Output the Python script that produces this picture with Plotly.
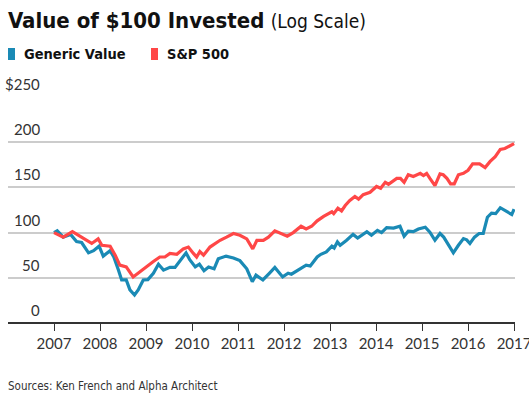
import plotly.graph_objects as go

# ---------------- data ----------------
sp_x = [2007.0, 2007.1, 2007.2, 2007.4, 2007.53, 2007.71, 2007.82, 2007.96, 2008.04, 2008.22,
        2008.33, 2008.43, 2008.57, 2008.72, 2008.87, 2009.01, 2009.16, 2009.3, 2009.41, 2009.52,
        2009.67, 2009.81, 2009.92, 2010.03, 2010.1, 2010.17, 2010.25, 2010.39, 2010.61, 2010.75,
        2010.9, 2011.04, 2011.19, 2011.32, 2011.41, 2011.55, 2011.66, 2011.8, 2011.9, 2012.07,
        2012.2, 2012.37, 2012.48, 2012.6, 2012.72, 2012.86, 2013.04, 2013.08, 2013.17, 2013.25,
        2013.33, 2013.43, 2013.54, 2013.62, 2013.72, 2013.87, 2014.01, 2014.1, 2014.2, 2014.27,
        2014.45, 2014.53, 2014.61, 2014.7, 2014.81, 2014.96, 2015.03, 2015.1, 2015.17, 2015.28,
        2015.39, 2015.46, 2015.54, 2015.62, 2015.7, 2015.79, 2015.9, 2016.0, 2016.1, 2016.25,
        2016.37, 2016.48, 2016.59, 2016.7, 2016.8, 2016.91, 2017.0]
sp_y = [100, 97, 95, 101, 97, 91.5, 88, 93, 86, 85,
        75, 64, 62, 51, 57, 62, 68, 73, 73, 77,
        76, 82, 84, 77, 73, 79, 75, 84, 91.5, 95,
        99, 97, 93, 82, 91.5, 91.5, 95, 102, 100, 96,
        100, 107, 104, 107, 113, 118, 123, 121, 127, 124,
        130, 135.5, 140, 137, 142, 144.6, 151, 149, 155.6, 153.5,
        160, 160, 155.6, 164, 162, 165.5, 163, 165.5, 160, 152,
        165, 164, 160, 154, 154, 164, 165.5, 169, 176, 176,
        172, 178.7, 184, 192, 193, 196, 198.5]

gv_x = [2007.0, 2007.07, 2007.2, 2007.36, 2007.49, 2007.6, 2007.75, 2007.86, 2007.98, 2008.07,
        2008.22, 2008.3, 2008.4, 2008.47, 2008.57, 2008.65, 2008.75, 2008.83, 2008.94, 2009.04,
        2009.16, 2009.27, 2009.38, 2009.52, 2009.63, 2009.78, 2009.87, 2009.95, 2010.07, 2010.16,
        2010.26, 2010.36, 2010.48, 2010.57, 2010.74, 2010.9, 2011.04, 2011.19, 2011.31, 2011.39,
        2011.54, 2011.68, 2011.8, 2011.97, 2012.09, 2012.16, 2012.48, 2012.57, 2012.72, 2012.8,
        2012.92, 2013.04, 2013.09, 2013.16, 2013.22, 2013.36, 2013.5, 2013.6, 2013.8, 2013.9,
        2014.03, 2014.12, 2014.23, 2014.38, 2014.52, 2014.61, 2014.7, 2014.81, 2014.92, 2015.07,
        2015.17, 2015.28, 2015.39, 2015.47, 2015.57, 2015.68, 2015.79, 2015.9, 2015.97, 2016.04,
        2016.14, 2016.24, 2016.33, 2016.42, 2016.51, 2016.6, 2016.7, 2016.83, 2016.95, 2017.0]
gv_y = [100, 102, 95, 98, 90, 89, 77.6, 80, 85, 74,
        80, 73, 58.6, 47.6, 47.6, 36.6, 31, 36.6, 47.6, 48,
        55, 65, 58.5, 61.5, 61.5, 71, 77.6, 70, 62, 65,
        57.8, 62, 60, 71, 74, 72, 69, 60, 45.7, 53,
        47.6, 55, 61.5, 51, 55, 54, 64, 63, 73, 76,
        78.6, 85, 83, 89.7, 86, 91.5, 98, 94, 101, 97,
        102.5, 100, 105.5, 105, 107, 96, 101.5, 101, 104, 106,
        100.5, 91.5, 99, 95, 86, 77.6, 86, 93.4, 92, 88,
        95, 99, 99, 117, 121.5, 121, 127.5, 124, 120, 126]

x_ticks = [2007, 2008, 2009, 2010, 2011, 2012, 2013, 2014, 2015, 2016, 2017]
y_ticks = [0, 50, 100, 150, 200, 250]
y_tick_labels = ["0", "50", "100", "150", "200", "$250"]
series_names = ["Generic Value", "S&P 500"]

# ---------------- style ----------------
W, H = 529, 398
ML, MR, MT, MB = 8, 14, 97, 75
PW, PH = W - ML - MR, H - MT - MB
BLUE = "#1a8ab5"
RED = "#ff4747"
FONT = "Lato"
COND = "DejaVu Sans Condensed"


def px(xp):
    return (xp - ML) / PW


def py(yp):
    return 1 - (yp - MT) / PH


fig = go.Figure()
fig.add_trace(go.Scatter(x=gv_x, y=gv_y, mode="lines", name=series_names[0],
                         line=dict(color=BLUE, width=3.2), hoverinfo="skip"))
fig.add_trace(go.Scatter(x=sp_x, y=sp_y, mode="lines", name=series_names[1],
                         line=dict(color=RED, width=3.2), hoverinfo="skip"))

annotations = []
# title
annotations.append(dict(xref="paper", yref="paper", x=px(6), y=py(20), xanchor="left", yanchor="middle",
                        text="<b>Value of $100 Invested</b> <span style='font-size:19px'>(Log Scale)</span>",
                        showarrow=False, font=dict(family=COND, size=22, color="#111")))
# legend
leg_x = [22, 165]
leg_c = [BLUE, RED]
shapes = []
for name, lx, c in zip(series_names, leg_x, leg_c):
    annotations.append(dict(xref="paper", yref="paper", x=px(lx), y=py(54), xanchor="left", yanchor="middle",
                            text="<b>" + name + "</b>", showarrow=False,
                            font=dict(family=COND, size=14.5, color="#111")))
    shapes.append(dict(type="rect", xref="paper", yref="paper", x0=px(lx - 14), x1=px(lx - 7),
                       y0=py(60), y1=py(48), fillcolor=c, line=dict(width=0)))
# y tick labels above gridlines
for v, t in zip(y_ticks, y_tick_labels):
    annotations.append(dict(xref="paper", yref="y", x=px(42), y=v, xanchor="right", yanchor="bottom",
                            yshift=2, text=t, showarrow=False,
                            font=dict(family=FONT, size=15, color="#333")))
# source
annotations.append(dict(xref="paper", yref="paper", x=px(6), y=py(386), xanchor="left", yanchor="middle",
                        text="Sources: Ken French and Alpha Architect", showarrow=False,
                        font=dict(family=COND, size=11.5, color="#333")))

fig.update_layout(
    width=W, height=H,
    margin=dict(l=ML, r=MR, t=MT, b=MB, autoexpand=False),
    paper_bgcolor="white", plot_bgcolor="white",
    showlegend=False,
    annotations=annotations,
    shapes=shapes,
    xaxis=dict(range=[2006.0, 2017.02], tickvals=x_ticks, ticktext=[str(t) for t in x_ticks],
               showgrid=False, zeroline=False, showline=False,
               ticks="outside", ticklen=7, tickwidth=1.2, tickcolor="#333",
               ticklabeloverflow="allow", automargin=False,
               tickfont=dict(family=FONT, size=15, color="#333"), fixedrange=True),
    yaxis=dict(range=[0, 250], tickvals=y_ticks, showticklabels=False,
               showgrid=True, gridcolor="#cccccc", gridwidth=1.5,
               zeroline=True, zerolinecolor="#333", zerolinewidth=1.5,
               showline=False, ticks="", fixedrange=True),
)

fig.write_html("out.html", config={"displayModeBar": False},
               post_script="document.body.style.margin='0';document.body.style.overflow='hidden';")
